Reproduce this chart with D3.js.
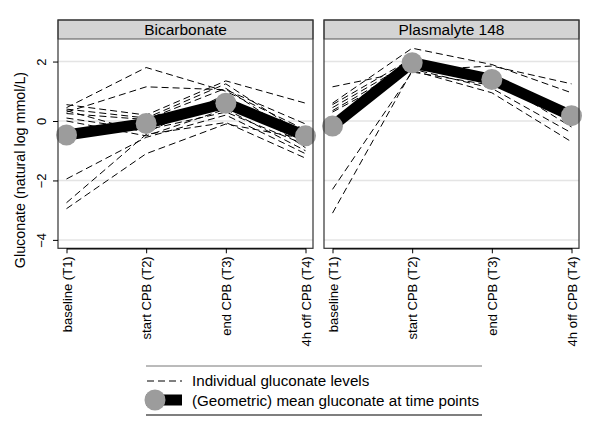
<!DOCTYPE html>
<html><head><meta charset="utf-8">
<script src="https://cdn.jsdelivr.net/npm/d3@7"></script>
<style>
body{margin:0;background:#fff;}
text{font-family:"Liberation Sans",Arial,Helvetica,sans-serif;fill:#000;}
</style></head>
<body><svg id="c" width="600" height="436"></svg>
<script>
const categories = ["baseline (T1)","start CPB (T2)","end CPB (T3)","4h off CPB (T4)"];
const panels = ["Bicarbonate","Plasmalyte 148"];
const yTicks = [-4,-2,0,2];
const bicarbIndividual = [
  [0.45, 1.8, 1.0, -0.3],
  [0.3, 1.15, 1.05, -0.1],
  [0.55, 0.2, 1.35, 0.6],
  [0.4, 0.1, 1.25, -0.5],
  [0.25, 0.05, 1.1, -0.7],
  [0.35, -0.4, 0.9, -0.9],
  [0.0, -0.5, 0.4, -1.0],
  [0.1, -0.3, 0.3, -0.8],
  [-1.95, -0.55, 0.2, -1.1],
  [-2.75, -0.45, -0.05, -1.25],
  [-2.95, -1.1, -0.1, -0.6]
];
const plasmaIndividual = [
  [1.15, 1.7, 1.85, 1.25],
  [0.6, 2.45, 1.9, 0.95],
  [0.55, 2.1, 1.5, 0.2],
  [0.45, 2.0, 1.3, 0.0],
  [0.35, 1.9, 1.45, -0.2],
  [0.3, 1.75, 1.1, -0.4],
  [-2.3, 1.65, 1.2, 0.3],
  [-3.1, 1.7, 0.95, -0.7]
];
const bicarbMean = [-0.47, -0.08, 0.6, -0.5];
const plasmaMean = [-0.17, 1.96, 1.4, 0.18];
const legendLabels = ["Individual gluconate levels","(Geometric) mean gluconate at time points"];

const svg = d3.select("#c");
const plotTop = 39, plotBottom = 248.3, headerTop = 20;
const panelW = 255;
const panelX = [58, 324];
const y = d3.scaleLinear().domain([-4.283, 2.759]).range([plotBottom, plotTop]);
const individual = [bicarbIndividual, plasmaIndividual];
const means = [bicarbMean, plasmaMean];

panels.forEach((name, pi) => {
  const g = svg.append("g").attr("transform", `translate(${panelX[pi]},0)`);
  const x = d3.scalePoint().domain(categories).range([8.5, 247.5]);
  g.selectAll("line.grid").data(yTicks).join("line")
    .attr("x1", 0).attr("x2", panelW)
    .attr("y1", d => y(d)).attr("y2", d => y(d))
    .attr("stroke", "#e4e4e4").attr("stroke-width", 1.5);
  const line = d3.line().x((d,i) => x(categories[i])).y(d => y(d));
  g.selectAll("path.ind").data(individual[pi]).join("path")
    .attr("d", line).attr("fill", "none").attr("stroke", "#000")
    .attr("stroke-width", 1).attr("stroke-dasharray", "7,4");
  g.append("path").attr("d", line(means[pi])).attr("fill", "none")
    .attr("stroke", "#000").attr("stroke-width", 11).attr("stroke-linejoin", "round");
  g.selectAll("circle.m").data(means[pi]).join("circle")
    .attr("cx", (d,i) => x(categories[i])).attr("cy", d => y(d))
    .attr("r", 10.5).attr("fill", "#9c9c9c");
  g.append("rect").attr("x", 0).attr("y", headerTop).attr("width", panelW).attr("height", plotTop - headerTop)
    .attr("fill", "#d4d4d4").attr("stroke", "#555").attr("stroke-width", 1);
  g.append("text").attr("x", panelW/2).attr("y", 35).attr("text-anchor", "middle")
    .style("font-size", "15.5px").text(name);
  g.append("rect").attr("x", 0).attr("y", headerTop).attr("width", panelW).attr("height", plotBottom - headerTop)
    .attr("fill", "none").attr("stroke", "#333").attr("stroke-width", 1.2);
  const xa = g.append("g").attr("transform", `translate(0,${plotBottom})`)
    .call(d3.axisBottom(x).tickSize(5).tickSizeOuter(0));
  xa.select(".domain").attr("stroke", "#000").attr("stroke-width", 1.3);
  xa.selectAll(".tick line").attr("stroke", "#000");
  xa.selectAll(".tick text").attr("transform", "rotate(-90)")
    .attr("x", -8).attr("y", 0).attr("dy", "0.35em").attr("text-anchor", "end")
    .style("font-size", "13px").style("font-family", '"Liberation Sans",Arial,sans-serif').attr("fill", "#000");
  if (pi === 0) {
    const ya = g.append("g").call(d3.axisLeft(y).tickValues(yTicks).tickSize(5)
      .tickFormat(d => d < 0 ? "\u2212" + Math.abs(d) : String(d)));
    ya.select(".domain").remove();
    ya.selectAll(".tick line").attr("stroke", "#000");
    ya.selectAll(".tick text").attr("transform", "rotate(-90)")
      .attr("x", 0).attr("y", -12).attr("dy", 0).attr("text-anchor", "middle")
      .style("font-size", "13px").style("font-family", '"Liberation Sans",Arial,sans-serif').attr("fill", "#000");
  }
});

svg.append("text").attr("transform", "translate(25,170) rotate(-90)")
  .attr("text-anchor", "middle").style("font-size", "14.3px")
  .text("Gluconate (natural log mmol/L)");

const lg = svg.append("g");
lg.append("line").attr("x1", 146).attr("x2", 482).attr("y1", 366).attr("y2", 366)
  .attr("stroke", "#777").attr("stroke-width", 1);
lg.append("line").attr("x1", 146).attr("x2", 482).attr("y1", 415).attr("y2", 415)
  .attr("stroke", "#000").attr("stroke-width", 1.2);
lg.append("line").attr("x1", 147).attr("x2", 182).attr("y1", 381).attr("y2", 381)
  .attr("stroke", "#000").attr("stroke-width", 1).attr("stroke-dasharray", "7,4");
lg.append("line").attr("x1", 146).attr("x2", 182).attr("y1", 400).attr("y2", 400)
  .attr("stroke", "#000").attr("stroke-width", 11);
lg.append("circle").attr("cx", 155).attr("cy", 400).attr("r", 10.5).attr("fill", "#9c9c9c");
lg.selectAll("text.l").data(legendLabels).join("text")
  .attr("x", 192).attr("y", (d,i) => 386 + i*19.5).style("font-size", "15.2px").text(d => d);
</script></body></html>
